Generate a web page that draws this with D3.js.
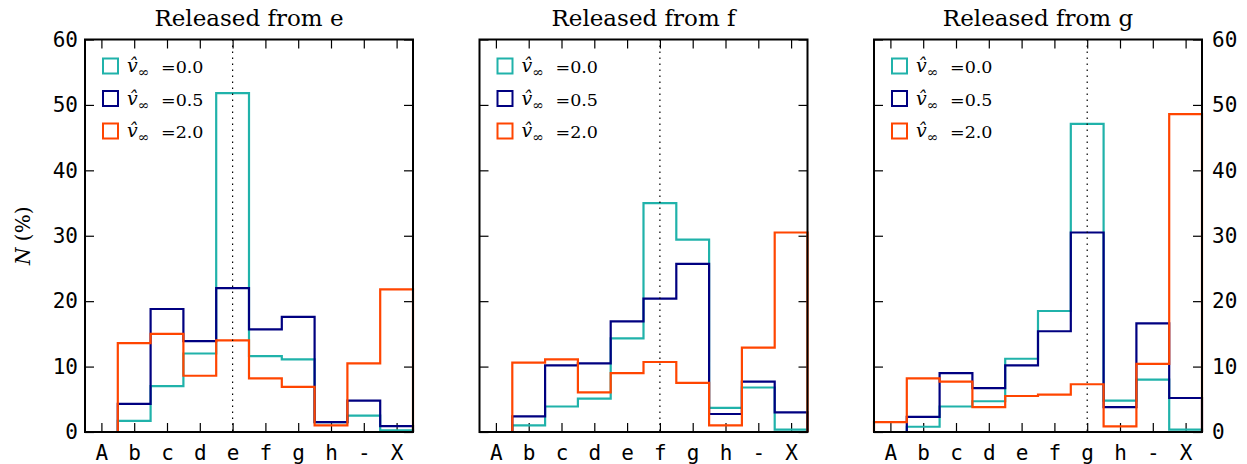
<!DOCTYPE html>
<html>
<head>
<meta charset="utf-8">
<script src="https://cdn.jsdelivr.net/npm/d3@7"></script>
<style>
  body { margin: 0; background: #fff; }
  svg { display: block; }
  .tick text { font-family: "DejaVu Sans Mono", monospace; font-size: 21px; fill: #000; }
  .tick line { stroke: #000; stroke-width: 1.2px; }
  .domain { display: none; }
  .serif { font-family: "DejaVu Serif", serif; }
</style>
</head>
<body>
<svg class="main" width="1247" height="464"></svg>
<script>
// categories on the x axis
var cats = ['A', 'b', 'c', 'd', 'e', 'f', 'g', 'h', '-', 'X'];
var releases = ['e', 'f', 'g'];
var yTicks = [0, 10, 20, 30, 40, 50, 60];
var legendLabels = ['0.0', '0.5', '2.0'];

// N (%) per category, released from e
var v00_e = [0, 1.7, 7.0, 12.0, 51.8, 11.6, 11.1, 1.5, 2.5, 0.25];
var v05_e = [0, 4.3, 18.8, 13.9, 22.0, 15.7, 17.6, 1.5, 4.8, 0.9];
var v20_e = [0, 13.6, 15.0, 8.6, 14.0, 8.2, 6.9, 1.0, 10.5, 21.8];
// released from f
var v00_f = [0, 1.0, 3.9, 5.1, 14.3, 35.0, 29.4, 3.7, 6.8, 0.35];
var v05_f = [0, 2.4, 10.2, 10.5, 16.9, 20.4, 25.7, 2.75, 7.7, 3.0];
var v20_f = [0, 10.6, 11.1, 6.05, 9.0, 10.7, 7.5, 1.0, 12.9, 30.5];
// released from g
var v00_g = [0, 0.8, 3.9, 4.7, 11.2, 18.5, 47.1, 4.8, 8.0, 0.35];
var v05_g = [0, 2.3, 9.0, 6.7, 10.2, 15.4, 30.5, 3.8, 16.6, 5.2];
var v20_g = [1.5, 8.2, 7.7, 3.8, 5.5, 5.7, 7.3, 0.85, 10.4, 48.6];

var panels = [
    [v00_e, v05_e, v20_e],
    [v00_f, v05_f, v20_f],
    [v00_g, v05_g, v20_g]
];

var colors = ['#20b2aa', '#000080', '#ff4500'],
    panelLeft = [85, 479.5, 874],
    panelWidth = 328,
    plotTop = 39.5,
    plotBottom = 432,
    tickLen = 9;

var svg = d3.select('.main');

var y = d3.scaleLinear()
    .domain([0, 60])
    .range([plotBottom, plotTop]);

panels.forEach(function(series, p) {
    var left = panelLeft[p],
        right = left + panelWidth;

    var x = d3.scaleLinear()
        .domain([-0.5, cats.length - 0.5])
        .range([left, right]);

    var g = svg.append('g').attr('class', 'panel');

    // bottom axis with category labels, ticks pointing in
    g.append('g')
        .attr('transform', `translate(0,${plotBottom})`)
        .call(d3.axisBottom(x)
            .tickValues(d3.range(cats.length))
            .tickFormat(function(i) { return cats[i]; })
            .tickSizeInner(-tickLen)
            .tickSizeOuter(0)
            .tickPadding(13));

    // top ticks
    g.append('g')
        .attr('transform', `translate(0,${plotTop})`)
        .call(d3.axisTop(x)
            .tickValues(d3.range(cats.length))
            .tickFormat('')
            .tickSizeInner(-tickLen)
            .tickSizeOuter(0));

    // left ticks (labels only on first panel)
    g.append('g')
        .attr('transform', `translate(${left},0)`)
        .call(d3.axisLeft(y)
            .tickValues(yTicks)
            .tickFormat(p == 0 ? d3.format('d') : '')
            .tickSizeInner(-tickLen)
            .tickSizeOuter(0)
            .tickPadding(7));

    // right ticks (labels only on last panel)
    g.append('g')
        .attr('transform', `translate(${right},0)`)
        .call(d3.axisRight(y)
            .tickValues(yTicks)
            .tickFormat(p == 2 ? d3.format('d') : '')
            .tickSizeInner(-tickLen)
            .tickSizeOuter(0)
            .tickPadding(10));

    // step outlines
    var step = function(vals) {
        var pts = [[x(-0.5), y(0)]];
        vals.forEach(function(v, i) {
            pts.push([x(i - 0.5), y(v)]);
            pts.push([x(i + 0.5), y(v)]);
        });
        pts.push([x(cats.length - 0.5), y(0)]);
        return d3.line()(pts);
    };

    series.forEach(function(vals, s) {
        g.append('path')
            .attr('d', step(vals))
            .attr('fill', 'none')
            .attr('stroke', colors[s])
            .attr('stroke-width', 2.2);
    });

    // dotted line at release location
    var ri = cats.indexOf(releases[p]);
    g.append('line')
        .attr('x1', x(ri)).attr('x2', x(ri))
        .attr('y1', plotTop).attr('y2', plotBottom)
        .attr('stroke', '#000')
        .attr('stroke-width', 1.2)
        .attr('stroke-dasharray', '1.5,4.5');

    // frame
    g.append('rect')
        .attr('x', left).attr('y', plotTop)
        .attr('width', panelWidth).attr('height', plotBottom - plotTop)
        .attr('fill', 'none')
        .attr('stroke', '#000')
        .attr('stroke-width', 2);

    // title
    g.append('text')
        .attr('class', 'serif')
        .attr('x', (left + right) / 2)
        .attr('y', 26)
        .attr('text-anchor', 'middle')
        .style('font-size', '23px')
        .text('Released from ' + releases[p]);

    // legend
    legendLabels.forEach(function(lab, s) {
        var ly = 66 + s * 32.5;
        g.append('rect')
            .attr('x', left + 18).attr('y', ly - 7.5)
            .attr('width', 15).attr('height', 15)
            .attr('fill', '#fff')
            .attr('stroke', colors[s])
            .attr('stroke-width', 2);
        var t = g.append('text')
            .attr('class', 'serif')
            .attr('x', left + 42)
            .attr('y', ly + 6)
            .style('font-size', '19px');
        t.append('tspan')
            .style('font-style', 'italic')
            .text('v\u0302');
        t.append('tspan')
            .attr('dy', 5)
            .style('font-size', '14px')
            .text('\u221e');
        g.append('text')
            .attr('class', 'serif')
            .attr('x', left + 76)
            .attr('y', ly + 7)
            .style('font-size', '17.5px')
            .text('=' + lab);
    });
});

// y axis label
svg.append('text')
    .attr('class', 'serif')
    .attr('transform', `translate(30,${(plotTop + plotBottom) / 2}) rotate(-90)`)
    .attr('text-anchor', 'middle')
    .style('font-size', '20px')
    .html('<tspan font-style="italic">N</tspan> (%)');
</script>
</body>
</html>
